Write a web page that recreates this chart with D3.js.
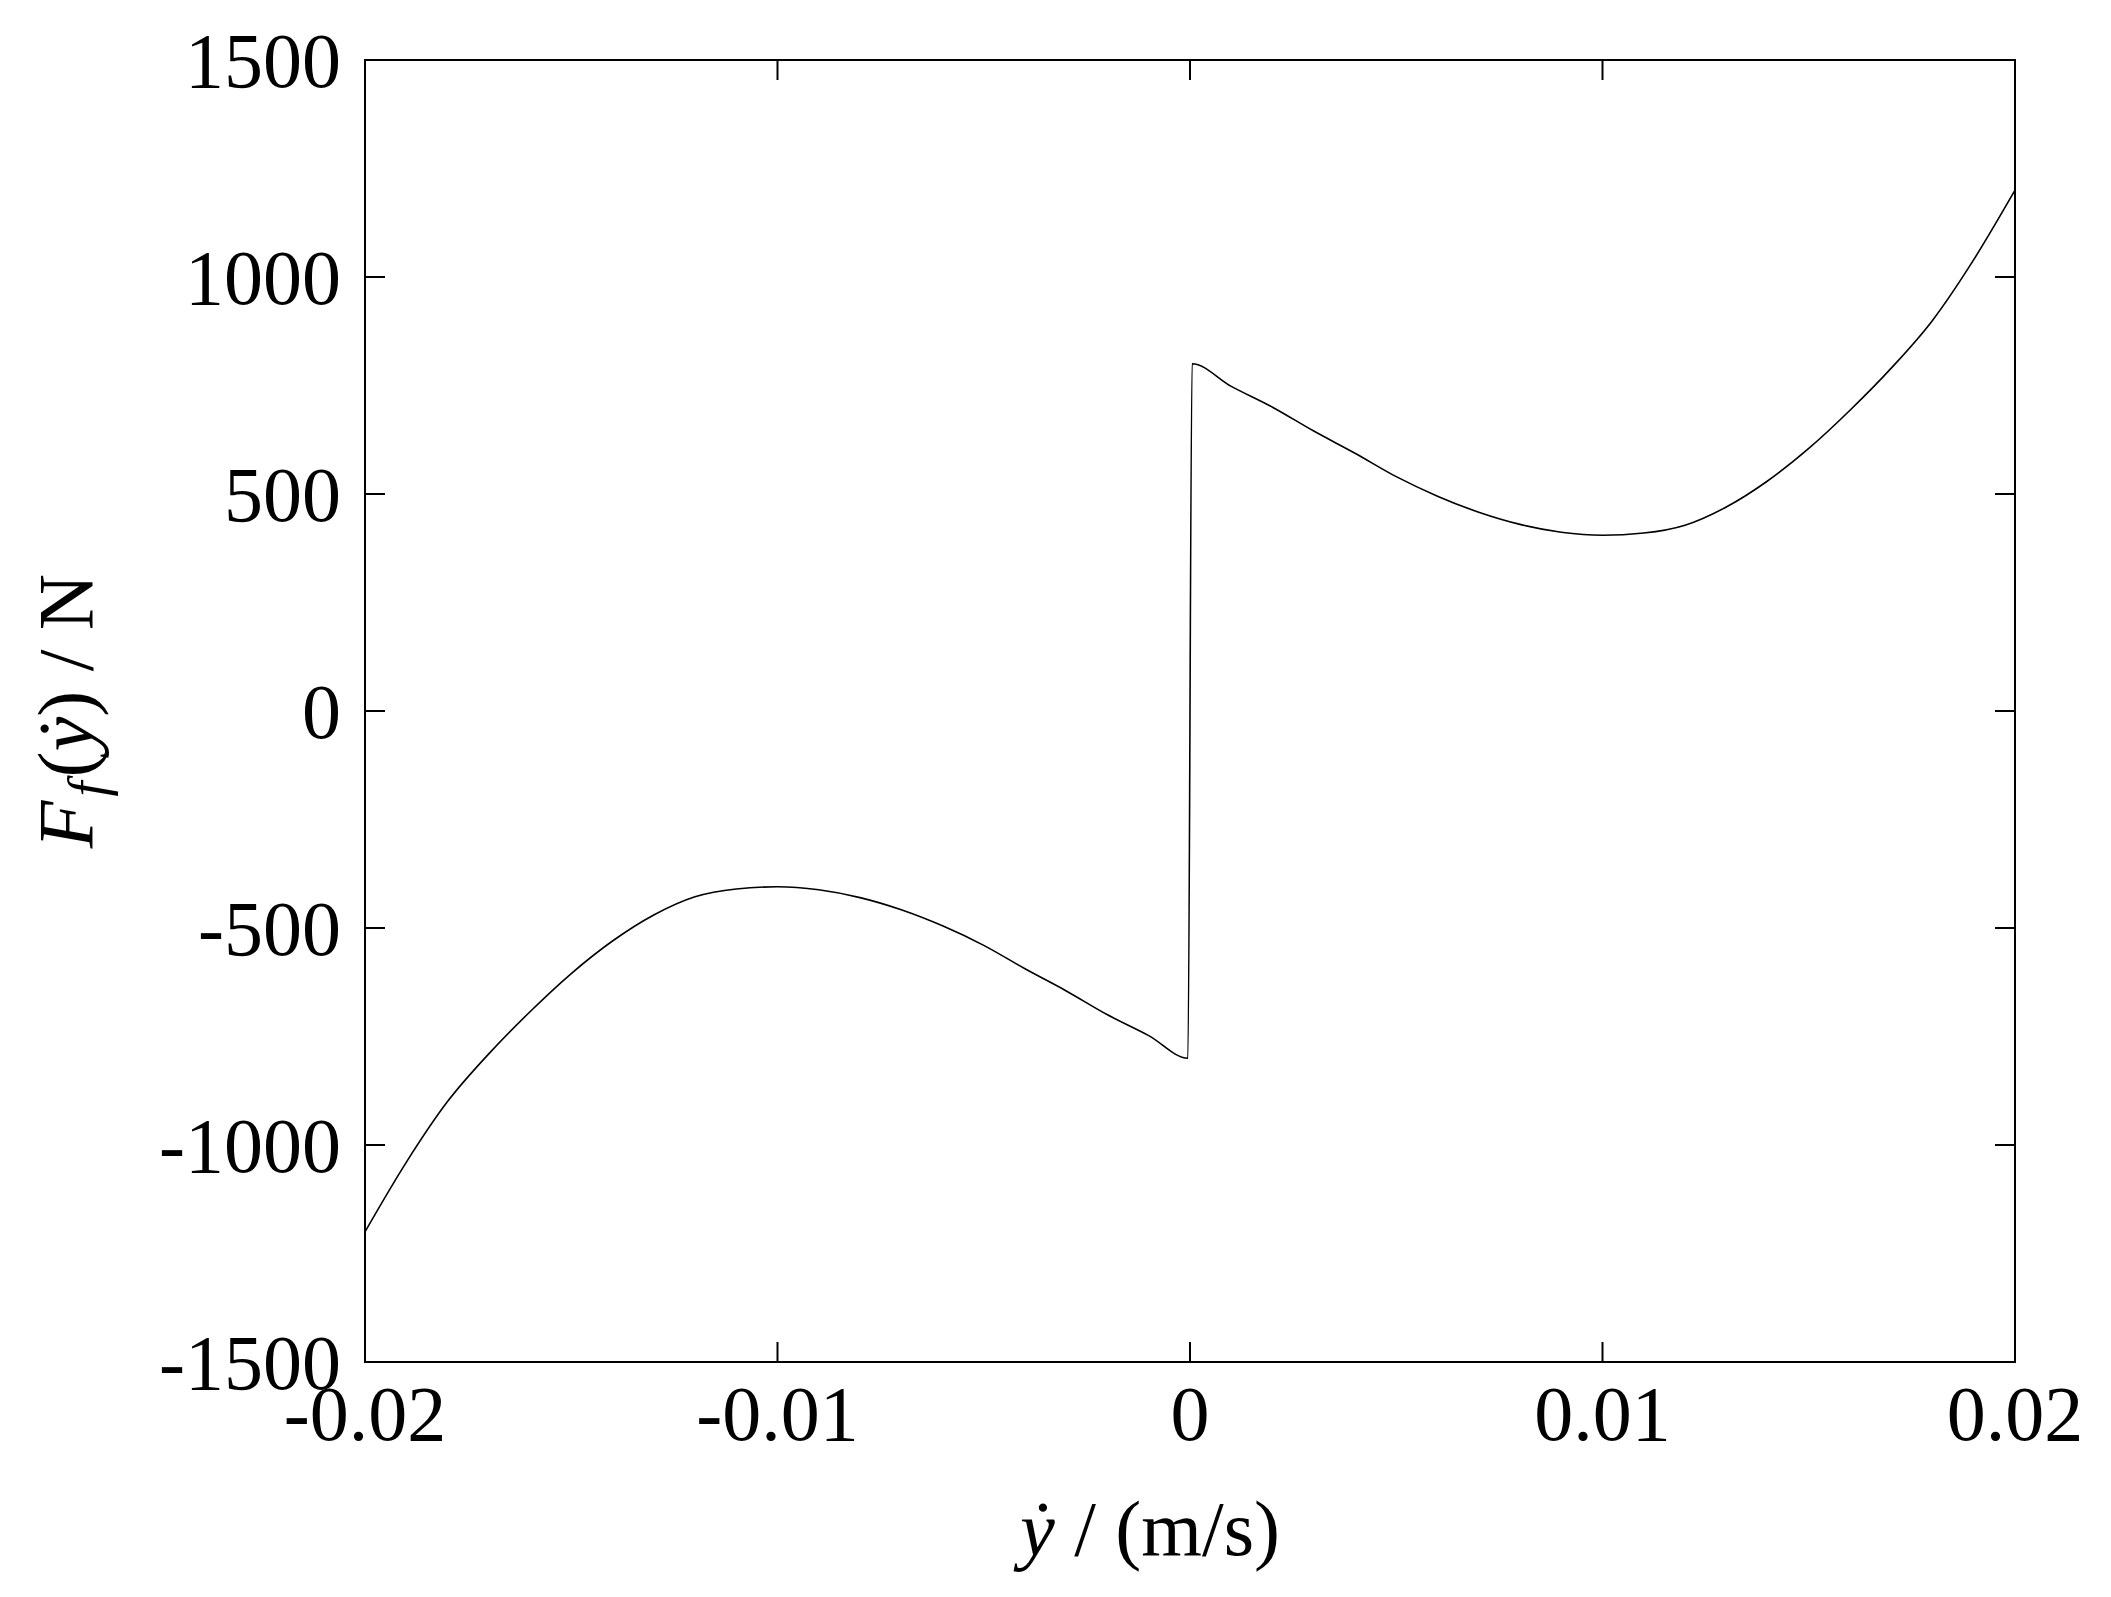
<!DOCTYPE html>
<html>
<head>
<meta charset="utf-8">
<script src="https://cdn.jsdelivr.net/npm/d3@7"></script>
<style>
  body { margin: 0; background: #fff; }
  text { font-family: "Liberation Serif", "Times New Roman", serif; fill: #000; }
</style>
</head>
<body>
<div id="root"></div>
<script>
// positive branch of friction force (the negative branch is its mirror)
var speedPos = [0.00005, 0.001, 0.002, 0.003, 0.004, 0.005, 0.006, 0.007, 0.008, 0.009, 0.010,
                0.011, 0.012, 0.013, 0.014, 0.015, 0.016, 0.017, 0.018, 0.019, 0.020]
var forcePos = [800, 748, 700, 645, 594, 540, 495, 458, 430, 412, 405,
                410, 428, 470, 530, 605, 693, 790, 900, 1040, 1200]
var xTicks = [-0.02, -0.01, 0, 0.01, 0.02]
var yTicks = [-1500, -1000, -500, 0, 500, 1000, 1500]

var data = []
for (var i = speedPos.length - 1; i >= 0; i--) data.push([-speedPos[i], -forcePos[i]])
for (var i = 0; i < speedPos.length; i++) data.push([speedPos[i], forcePos[i]])

var W = 2111, H = 1597
var mLeft = 365, mRight = 2015, mTop = 60, mBottom = 1362

var svg = d3.select("#root").append("svg")
    .attr("width", W)
    .attr("height", H)

var x = d3.scaleLinear().domain([-0.02, 0.02]).range([mLeft, mRight])
var y = d3.scaleLinear().domain([-1500, 1500]).range([mBottom, mTop])

// box
svg.append("rect")
    .attr("x", mLeft).attr("y", mTop)
    .attr("width", mRight - mLeft).attr("height", mBottom - mTop)
    .attr("fill", "none").attr("stroke", "#000").attr("stroke-width", 2)

var tl = 20
// ticks on all four sides, pointing inward
xTicks.forEach(function (t) {
    svg.append("line").attr("x1", x(t)).attr("x2", x(t)).attr("y1", mBottom).attr("y2", mBottom - tl)
        .attr("stroke", "#000").attr("stroke-width", 2)
    svg.append("line").attr("x1", x(t)).attr("x2", x(t)).attr("y1", mTop).attr("y2", mTop + tl)
        .attr("stroke", "#000").attr("stroke-width", 2)
    svg.append("text").text(String(t))
        .attr("x", x(t)).attr("y", 1440)
        .attr("text-anchor", "middle")
        .attr("font-size", 78)
})
yTicks.forEach(function (t) {
    svg.append("line").attr("x1", mLeft).attr("x2", mLeft + tl).attr("y1", y(t)).attr("y2", y(t))
        .attr("stroke", "#000").attr("stroke-width", 2)
    svg.append("line").attr("x1", mRight).attr("x2", mRight - tl).attr("y1", y(t)).attr("y2", y(t))
        .attr("stroke", "#000").attr("stroke-width", 2)
    svg.append("text").text(t)
        .attr("x", 341).attr("y", y(t) + 27)
        .attr("text-anchor", "end")
        .attr("font-size", 78)
})

var line = d3.line()
    .x(function (d) { return x(d[0]) })
    .y(function (d) { return y(d[1]) })
    .curve(d3.curveMonotoneX)

svg.append("path")
    .datum(data)
    .attr("d", line)
    .attr("fill", "none")
    .attr("stroke", "#000")
    .attr("stroke-width", 1.6)

// axis titles
svg.append("text")
    .attr("x", 1150).attr("y", 1555)
    .attr("text-anchor", "middle")
    .attr("font-size", 78)
    .html('<tspan font-style="italic">ẏ</tspan> / (m/s)')

svg.append("text")
    .attr("transform", "translate(92,711) rotate(-90)")
    .attr("text-anchor", "middle")
    .attr("font-size", 78)
    .html('<tspan font-style="italic">F</tspan><tspan font-style="italic" font-size="54" dx="4" dy="14">f</tspan><tspan dx="4" dy="-14">(</tspan><tspan font-style="italic">ẏ</tspan>) / N')
</script>
</body>
</html>
